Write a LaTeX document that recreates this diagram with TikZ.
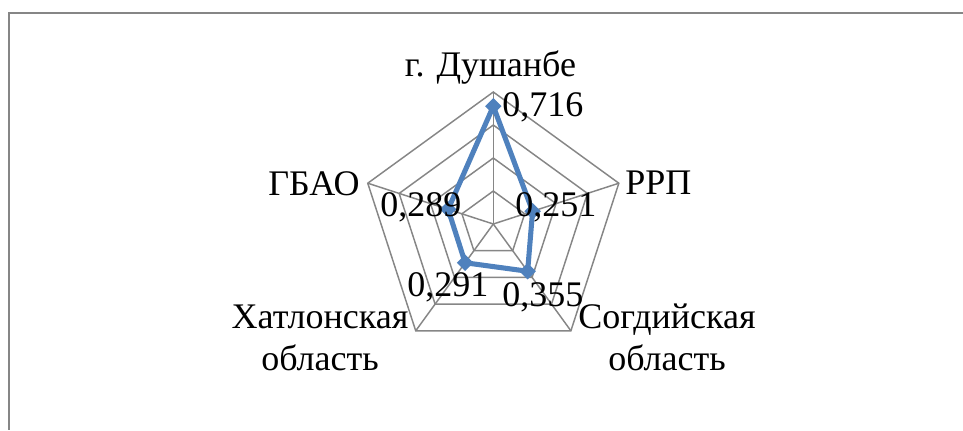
\documentclass[tikz,border=0pt]{standalone}
\usepackage{xcolor}
\usepackage{fontspec}
\setmainfont{Liberation Serif}
\usepackage{tikz}
\usetikzlibrary{shapes.geometric}

\definecolor{gridgray}{RGB}{134,134,134}
\definecolor{seriesblue}{RGB}{79,129,189}

\tikzset{
  axisline/.style={color=gridgray, line width=1.1},
  seriesline/.style={color=seriesblue, line width=3.8, line join=round},
  datamark/.style={diamond, fill=seriesblue, inner sep=0pt, minimum size=12.5},
  lbl/.style={inner sep=0.75pt, font=\fontsize{27}{31.5}\selectfont}
}

\begin{document}
\begin{tikzpicture}[x=0.75pt,y=0.75pt,yscale=-1,xscale=1]
        \useasboundingbox (0,0) rectangle (963,430);
        % chart frame
        \draw [gridgray, line width=1.5]  (963,12.5) -- (8.5,12.5) -- (8.5,430) ;

        \begin{scope}[shift={(493.3,224)}]
        % rings and spokes
        \foreach \r in {33,66,99,132}
            \draw [axisline] (-90:\r) -- (-18:\r) -- (54:\r) -- (126:\r) -- (198:\r) -- cycle ;
        \foreach \a in {-90,-18,54,126,198}
            \draw [axisline] (0,0) -- (\a:132) ;

        % series
        \coordinate (dush) at (-90:117.8);
        \coordinate (rrp) at (-18:41.3);
        \coordinate (sogd) at (54:58.4);
        \coordinate (khat) at (126:47.9);
        \coordinate (gbao) at (198:47.5);
        \draw [seriesline] (dush) -- (rrp) -- (sogd) -- (khat) -- (gbao) -- cycle ;
        \foreach \p in {dush,rrp,sogd,khat,gbao}
            \node [datamark] at (\p) {};
        \end{scope}

        \draw (490.5,76.7) node (dushlbl) [lbl, anchor=base]   {г. Душанбе};
        \draw (501,116.7) node (v1) [lbl, anchor=base west]   {0,716};
        \draw (624,194) node (rrplbl) [lbl, anchor=base west]   {РРП};
        \draw (514,216.7) node (v2) [lbl, anchor=base west]   {0,251};
        \draw (501,306.7) node (v3) [lbl, anchor=base west]   {0,355};
        \draw (667,370) node (sogdlbl) [lbl, anchor=base, align=center]   {Согдийская\\область};
        \draw (406,296.7) node (v4) [lbl, anchor=base west]   {0,291};
        \draw (320,370) node (khatlbl) [lbl, anchor=base, align=center]   {Хатлонская\\область};
        \draw (267,195) node (gbaolbl) [lbl, anchor=base west]   {ГБАО};
        \draw (379,216.7) node (v5) [lbl, anchor=base west]   {0,289};
    \end{tikzpicture}
\end{document}
